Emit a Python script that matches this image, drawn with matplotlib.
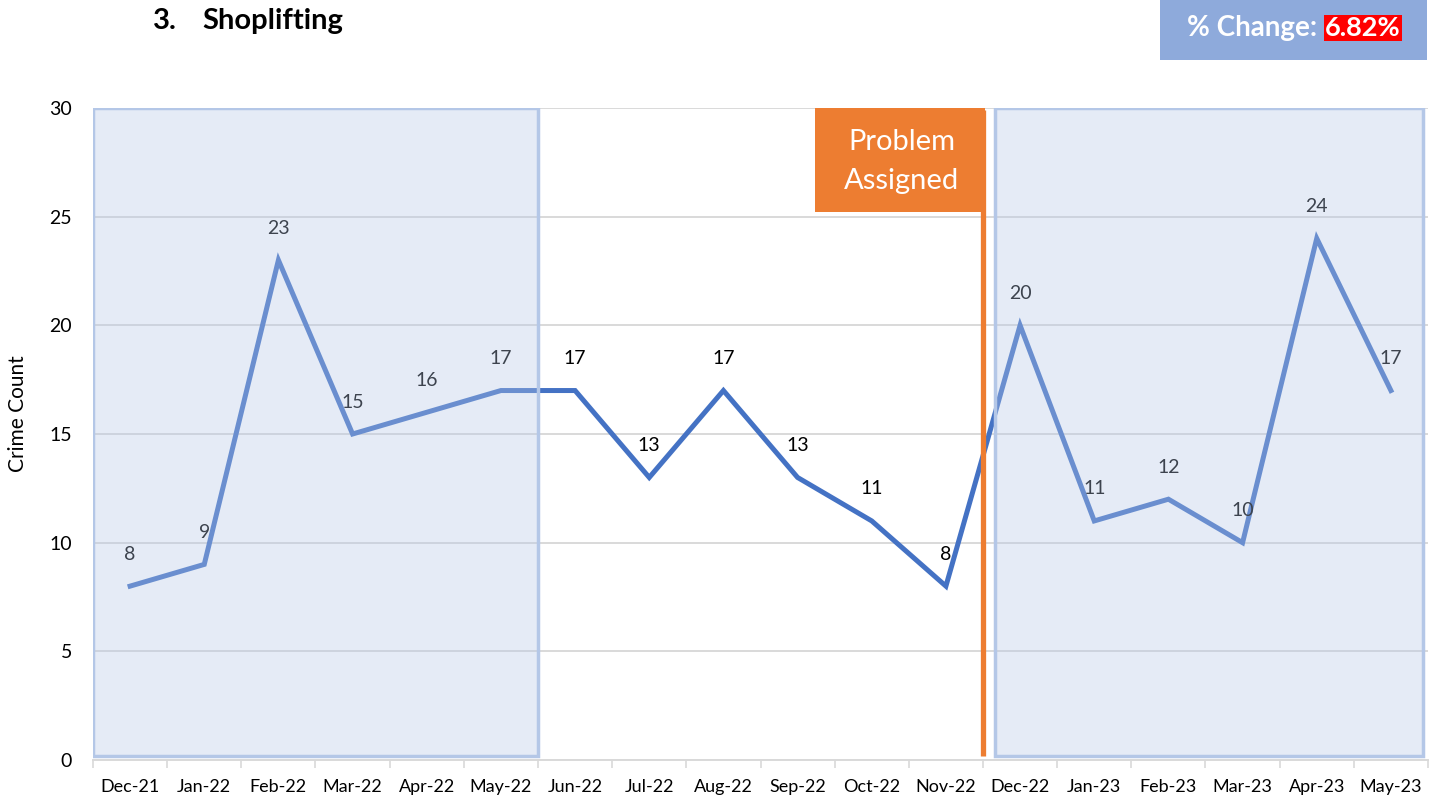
import matplotlib.pyplot as plt
from matplotlib.patches import Rectangle

months = ["Dec-21", "Jan-22", "Feb-22", "Mar-22", "Apr-22", "May-22",
          "Jun-22", "Jul-22", "Aug-22", "Sep-22", "Oct-22", "Nov-22",
          "Dec-22", "Jan-23", "Feb-23", "Mar-23", "Apr-23", "May-23"]
counts = [8, 9, 23, 15, 16, 17, 17, 13, 17, 13, 11, 8, 20, 11, 12, 10, 24, 17]
y_ticks = [0, 5, 10, 15, 20, 25, 30]
pct_change = "6.82%"

plt.rcParams['font.family'] = ['Lato', 'DejaVu Sans']

W, H = 1442, 801
fig = plt.figure(figsize=(W / 100, H / 100), dpi=100)
ax = fig.add_axes([93 / W, 1 - 760 / H, (1428 - 93) / W, (760 - 108) / H])

x = list(range(len(months)))
ax.plot(x, counts, color="#4472C4", lw=3.6, zorder=3, solid_joinstyle="miter")
for xi, v in zip(x, counts):
    ax.annotate(str(v), (xi, v), xytext=(0, 23), textcoords="offset points",
                ha="center", va="center", fontsize=14, color="black", zorder=4)

# shaded before/after periods (semi-transparent overlay)
for x0, x1 in [(-0.5, 5.5), (11.66, 17.43)]:
    ax.add_patch(Rectangle((x0, 0.2), x1 - x0, 29.8, facecolor="#B4C7E7",
                           alpha=0.34, edgecolor="none", zorder=5))
    ax.add_patch(Rectangle((x0, 0.2), x1 - x0, 29.8, facecolor="none",
                           edgecolor="#B4C7E7", lw=2.5, zorder=6))

# problem assigned marker
ax.plot([11.5, 11.5], [0.2, 29.9], color="#ED7D31", lw=3.8, zorder=7,
        solid_capstyle="butt")
ax.add_patch(Rectangle((9.23, 25.2), 2.3, 4.8, facecolor="#ED7D31",
                       edgecolor="none", zorder=7))
ax.text(10.4, 27.55, "Problem\nAssigned", ha="center", va="center",
        fontsize=21, color="white", linespacing=1.6, zorder=8)

ax.set_xlim(-0.5, len(months) - 0.5)
ax.set_ylim(0, 30)
ax.set_yticks(y_ticks)
ax.set_xticks(x)
ax.set_xticklabels(months, fontsize=13)
ax.set_xticks([i - 0.5 for i in range(len(months) + 1)], minor=True)
ax.tick_params(axis="x", which="major", length=0, pad=14)
ax.tick_params(axis="x", which="minor", length=6, color="#D9D9D9", width=1.2)
ax.tick_params(axis="y", length=0, labelsize=14, pad=15)
ax.set_ylabel("Crime Count", fontsize=15)
ax.yaxis.set_label_coords(-0.049, 0.532)
ax.yaxis.grid(True, color="#D9D9D9", lw=1.4)
ax.set_axisbelow(True)
for s in ["left", "right", "top"]:
    ax.spines[s].set_visible(False)
ax.spines["bottom"].set_color("#D9D9D9")
ax.spines["bottom"].set_linewidth(1.4)

# title
fig.text(153 / W, 1 - 21 / H, "3.", fontsize=21, fontweight="bold",
         ha="left", va="center")
fig.text(202 / W, 1 - 21 / H, "Shoplifting", fontsize=21, fontweight="bold",
         ha="left", va="center")

# % change box
fig.patches.append(Rectangle((1160 / W, 1 - 60 / H), 267 / W, 60 / H,
                             facecolor="#8EAADB", edgecolor="none",
                             transform=fig.transFigure, zorder=1))
fig.text(1317 / W, 1 - 28 / H, "% Change:", fontsize=20, fontweight="bold",
         color="white", ha="right", va="center", zorder=2)
fig.text(1325 / W, 1 - 28 / H, pct_change, fontsize=19.5, fontweight="bold",
         color="white", ha="left", va="center", zorder=2,
         bbox=dict(facecolor="#FF0000", edgecolor="none", pad=0.8))

fig.savefig("out.png", dpi=100)
